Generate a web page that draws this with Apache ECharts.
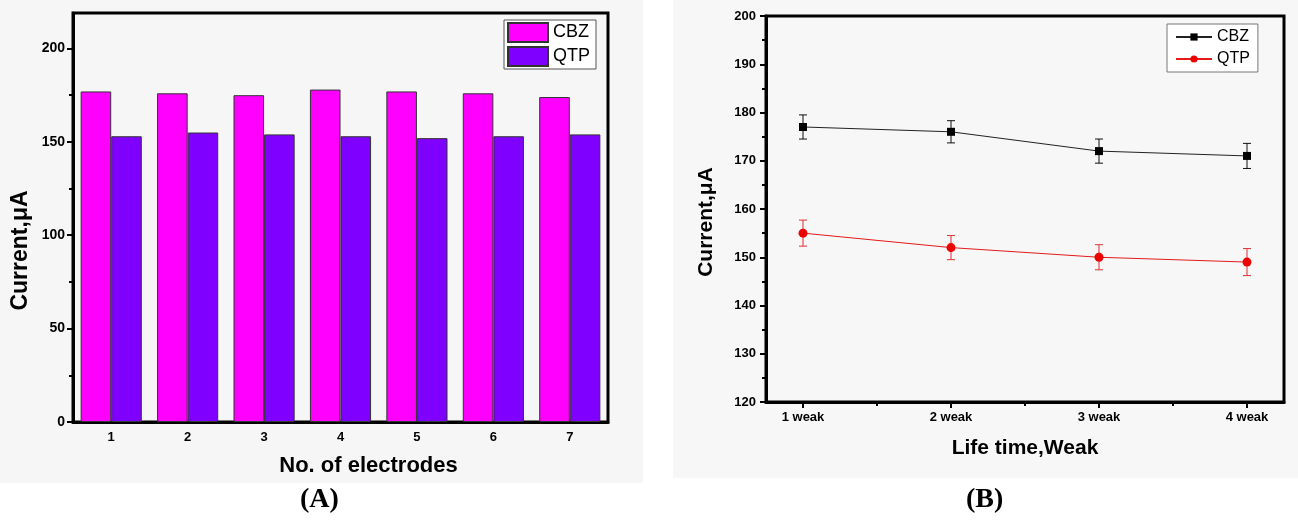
<!DOCTYPE html>
<html>
<head>
<meta charset="utf-8">
<script src="https://cdn.jsdelivr.net/npm/echarts@6/dist/echarts.min.js"></script>
<style>
  html, body { margin: 0; padding: 0; background: #fff; }
  #main { width: 1298px; height: 525px; }
</style>
</head>
<body>
<div id="main"></div>
<script>
// panel A: stability over electrodes
const electrodes = ['1', '2', '3', '4', '5', '6', '7'];
const cbzBars = [177, 176, 175, 178, 177, 176, 174];
const qtpBars = [153, 155, 154, 153, 152, 153, 154];
const barTicks = [0, 50, 100, 150, 200];

// panel B: life time
const weeks = [1, 2, 3, 4];
const weekLabels = ['1 weak', '2 weak', '3 weak', '4 weak'];
const cbzLife = [177, 176, 172, 171];
const cbzErr = [2.5, 2.3, 2.5, 2.6];
const qtpLife = [155, 152, 150, 149];
const qtpErr = [2.7, 2.5, 2.6, 2.8];

const FONT = '"Liberation Sans", Arial, sans-serif';
const chart = echarts.init(document.getElementById('main'));

const axisLine = { lineStyle: { color: '#000', width: 3 } };
const tickStyle = { color: '#000', width: 2 };
const labelStyle = { color: '#000', fontWeight: 'bold', fontFamily: FONT };

// error bars drawn with the axes' own coordinates
function errorBars(color) {
  return function (params, api) {
    const x = api.value(0);
    const lo = api.coord([x, api.value(1)]);
    const hi = api.coord([x, api.value(2)]);
    const cap = 4;
    const style = { stroke: color, lineWidth: 1 };
    return {
      type: 'group',
      children: [
        { type: 'line', shape: { x1: lo[0], y1: lo[1], x2: hi[0], y2: hi[1] }, style },
        { type: 'line', shape: { x1: hi[0] - cap, y1: hi[1], x2: hi[0] + cap, y2: hi[1] }, style },
        { type: 'line', shape: { x1: lo[0] - cap, y1: lo[1], x2: lo[0] + cap, y2: lo[1] }, style }
      ]
    };
  };
}

const midWeeks = weeks.slice(1).map((w, i) => (w + weeks[i]) / 2);
const midBarTicks = barTicks.slice(1).map((t, i) => (t + barTicks[i]) / 2);

const option = {
  backgroundColor: '#fff',
  animation: false,
  graphic: [
    { type: 'rect', z: -100, silent: true, shape: { x: 0, y: 0, width: 643, height: 483 }, style: { fill: '#f6f6f6' } },
    { type: 'rect', z: -100, silent: true, shape: { x: 673, y: 0, width: 625, height: 478 }, style: { fill: '#f7f7f7' } }
  ],
  title: [
    { text: '(A)', left: 300, top: 486, padding: 0,
      textStyle: { fontFamily: '"Liberation Serif", "Times New Roman", serif', fontWeight: 'bold', fontSize: 28, color: '#000' } },
    { text: '(B)', left: 966, top: 486, padding: 0,
      textStyle: { fontFamily: '"Liberation Serif", "Times New Roman", serif', fontWeight: 'bold', fontSize: 28, color: '#000' } }
  ],
  legend: [
    {
      data: ['CBZ', 'QTP'],
      orient: 'vertical',
      left: 504, top: 20,
      icon: 'rect',
      itemWidth: 40, itemHeight: 19, itemGap: 3,
      padding: [2, 6, 2, 3],
      borderColor: '#555', borderWidth: 1,
      backgroundColor: '#fff',
      textStyle: { fontFamily: FONT, fontSize: 18, color: '#000' }
    },
    {
      data: ['CBZ life', 'QTP life'],
      formatter: n => n.replace(' life', ''),
      orient: 'vertical',
      left: 1167, top: 24,
      itemWidth: 36, itemHeight: 9, itemGap: 6,
      padding: [5, 8, 5, 8],
      borderColor: '#777', borderWidth: 1,
      backgroundColor: '#fff',
      textStyle: { fontFamily: FONT, fontSize: 16, color: '#000' }
    }
  ],
  grid: [
    { left: 73, top: 13, width: 535, height: 409, show: true, borderColor: '#000', borderWidth: 3, backgroundColor: 'transparent' },
    { left: 766, top: 16, width: 518, height: 386, show: true, borderColor: '#000', borderWidth: 3, backgroundColor: 'transparent' }
  ],
  xAxis: [
    {
      type: 'category', gridIndex: 0, data: electrodes,
      axisLine,
      axisTick: { alignWithLabel: true, length: 6, lineStyle: tickStyle },
      axisLabel: Object.assign({ fontSize: 13, margin: 9 }, labelStyle),
      name: 'No. of electrodes', nameLocation: 'middle', nameGap: 33,
      nameTextStyle: Object.assign({ fontSize: 22, padding: [0, 0, 0, 56] }, labelStyle)
    },
    {
      type: 'category', gridIndex: 0, data: electrodes, position: 'bottom',
      axisLine: { show: false },
      axisTick: { alignWithLabel: false, length: 4, lineStyle: tickStyle },
      axisLabel: { show: false }
    },
    {
      type: 'value', gridIndex: 1, min: 0.75, max: 4.25,
      axisLine,
      splitLine: { show: false },
      axisTick: { customValues: weeks, length: 6, lineStyle: tickStyle },
      axisLabel: Object.assign({
        fontSize: 13, margin: 9, customValues: weeks,
        formatter: v => weekLabels[weeks.indexOf(v)] || ''
      }, labelStyle),
      name: 'Life time,Weak', nameLocation: 'middle', nameGap: 36,
      nameTextStyle: Object.assign({ fontSize: 21 }, labelStyle)
    },
    {
      type: 'value', gridIndex: 1, min: 0.75, max: 4.25, position: 'bottom',
      axisLine: { show: false },
      splitLine: { show: false },
      axisTick: { customValues: midWeeks, length: 4, lineStyle: tickStyle },
      axisLabel: { show: false }
    }
  ],
  yAxis: [
    {
      type: 'value', gridIndex: 0, min: 0, max: 219, interval: 50,
      axisLine: { show: true, lineStyle: { color: '#000', width: 3 } },
      splitLine: { show: false },
      axisTick: { show: true, customValues: barTicks, length: 6, lineStyle: tickStyle },
      axisLabel: Object.assign({ fontSize: 14, margin: 8, customValues: barTicks }, labelStyle),
      name: 'Current,\u03bcA', nameLocation: 'middle', nameGap: 41,
      nameTextStyle: Object.assign({ fontSize: 23, padding: [0, 66, 0, 0] }, labelStyle)
    },
    {
      type: 'value', gridIndex: 1, min: 120, max: 200, interval: 10,
      axisLine: { show: true, lineStyle: { color: '#000', width: 3 } },
      splitLine: { show: false },
      axisTick: { show: true, length: 6, lineStyle: tickStyle },
      minorTick: { show: true, splitNumber: 2, length: 4, lineStyle: tickStyle },
      axisLabel: Object.assign({ fontSize: 13, margin: 10 }, labelStyle),
      name: 'Current,\u03bcA', nameLocation: 'middle', nameGap: 49,
      nameTextStyle: Object.assign({ fontSize: 21, padding: [0, 26, 0, 0] }, labelStyle)
    },
    {
      type: 'value', gridIndex: 0, min: 0, max: 219, position: 'left',
      axisLine: { show: false },
      splitLine: { show: false },
      axisTick: { show: true, customValues: midBarTicks, length: 4, lineStyle: tickStyle },
      axisLabel: { show: false }
    }
  ],
  series: [
    {
      name: 'CBZ', type: 'bar', xAxisIndex: 0, yAxisIndex: 0,
      data: cbzBars, barGap: '0%', barCategoryGap: '20%',
      itemStyle: { color: '#ff00ff', borderColor: '#333', borderWidth: 1 }
    },
    {
      name: 'QTP', type: 'bar', xAxisIndex: 0, yAxisIndex: 0,
      data: qtpBars, barGap: '0%', barCategoryGap: '20%',
      itemStyle: { color: '#8000ff', borderColor: '#333', borderWidth: 1 }
    },
    {
      name: 'CBZ life', type: 'line', xAxisIndex: 2, yAxisIndex: 1,
      data: weeks.map((w, i) => [w, cbzLife[i]]),
      symbol: 'rect', symbolSize: 8,
      lineStyle: { color: '#222', width: 1 },
      itemStyle: { color: '#000' }
    },
    {
      name: 'QTP life', type: 'line', xAxisIndex: 2, yAxisIndex: 1,
      data: weeks.map((w, i) => [w, qtpLife[i]]),
      symbol: 'circle', symbolSize: 9,
      lineStyle: { color: '#e31a1a', width: 1 },
      itemStyle: { color: '#ee0000' }
    },
    {
      name: 'CBZ err', type: 'custom', xAxisIndex: 2, yAxisIndex: 1,
      data: weeks.map((w, i) => [w, cbzLife[i] - cbzErr[i], cbzLife[i] + cbzErr[i]]),
      encode: { x: 0, y: [1, 2] },
      renderItem: errorBars('#111')
    },
    {
      name: 'QTP err', type: 'custom', xAxisIndex: 2, yAxisIndex: 1,
      data: weeks.map((w, i) => [w, qtpLife[i] - qtpErr[i], qtpLife[i] + qtpErr[i]]),
      encode: { x: 0, y: [1, 2] },
      renderItem: errorBars('#e03030')
    }
  ]
};

chart.setOption(option);
</script>
</body>
</html>
